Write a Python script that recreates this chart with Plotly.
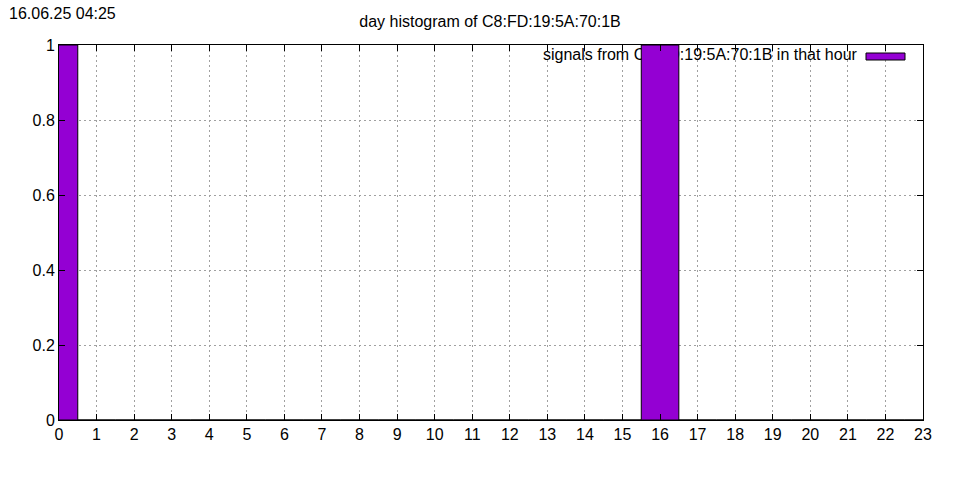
import plotly.graph_objects as go

hours = list(range(24))
counts = [1, 0, 0, 0, 0, 0, 0, 0, 0, 0, 0, 0, 0, 0, 0, 0, 1, 0, 0, 0, 0, 0, 0, 0]
title = "day histogram of C8:FD:19:5A:70:1B"
stamp = "16.06.25 04:25"
series_name = "signals from C8:FD:19:5A:70:1B in that hour"
x_ticks = list(range(24))
y_ticks = [0, 0.2, 0.4, 0.6, 0.8, 1]
y_tick_text = ["0", "0.2", "0.4", "0.6", "0.8", "1"]

FONT = "Liberation Sans, Arial, sans-serif"
PURPLE = "#9400d3"
GRID = dict(showgrid=True, gridcolor="#a0a0a0", griddash="2px,3px", gridwidth=1)

fig = go.Figure()

# legend label on the base axes (bars sit on an overlaying axis, so they cover it)
fig.add_trace(go.Scatter(
    x=[21.24], y=[0.972], mode="text", text=[series_name],
    textposition="middle left", textfont=dict(family=FONT, size=16, color="black"),
    hoverinfo="skip", showlegend=False, cliponaxis=False, xaxis="x", yaxis="y"))

fig.add_trace(go.Bar(
    x=hours, y=counts, width=1, name=series_name,
    marker=dict(color=PURPLE, line=dict(color="black", width=1)),
    showlegend=False, xaxis="x2", yaxis="y2"))

axis_common = dict(ticks="inside", ticklen=6, tickcolor="black", showline=True,
                   linecolor="black", linewidth=1, mirror="ticks",
                   zeroline=False, tickfont=dict(size=16), **GRID)

fig.update_layout(
    width=960, height=480,
    margin=dict(l=59, r=37, t=45, b=60),
    paper_bgcolor="white", plot_bgcolor="white",
    font=dict(family=FONT, size=16, color="black"),
    showlegend=False,
    title=dict(text=title, x=490 / 960, xref="container",
               xanchor="center", y=1 - 21 / 480, yref="container", yanchor="middle",
               font=dict(family=FONT, size=16)),
    xaxis=dict(range=[0, 23], tickmode="array", tickvals=x_ticks, **axis_common),
    yaxis=dict(range=[0, 1], tickmode="array", tickvals=y_ticks, ticktext=y_tick_text,
               **axis_common),
    xaxis2=dict(range=[0, 23], overlaying="x", visible=False, showgrid=False, zeroline=False),
    yaxis2=dict(range=[0, 1], overlaying="y", visible=False, showgrid=False, zeroline=False),
    annotations=[dict(text=stamp, xref="paper", yref="paper", x=-59 / 864, y=1 + 32 / 375,
                      xanchor="left", yanchor="middle", showarrow=False,
                      font=dict(family=FONT, size=16), xshift=7)],
    shapes=[
        # opaque legend box hiding the grid
        dict(type="rect", xref="paper", yref="paper", layer="between",
             x0=(466 - 59) / 864, x1=1, y0=1 - 20 / 375, y1=1,
             fillcolor="white", line=dict(width=0)),
        # legend sample
        dict(type="rect", xref="paper", yref="paper", layer="above",
             x0=(866 - 59) / 864, x1=(905 - 59) / 864, y0=1 - 15 / 375, y1=1 - 8 / 375,
             fillcolor=PURPLE, line=dict(color="black", width=1)),
    ],
)

fig.write_html("out.html", config={"displayModeBar": False},
               post_script="document.body.style.margin='0';")
